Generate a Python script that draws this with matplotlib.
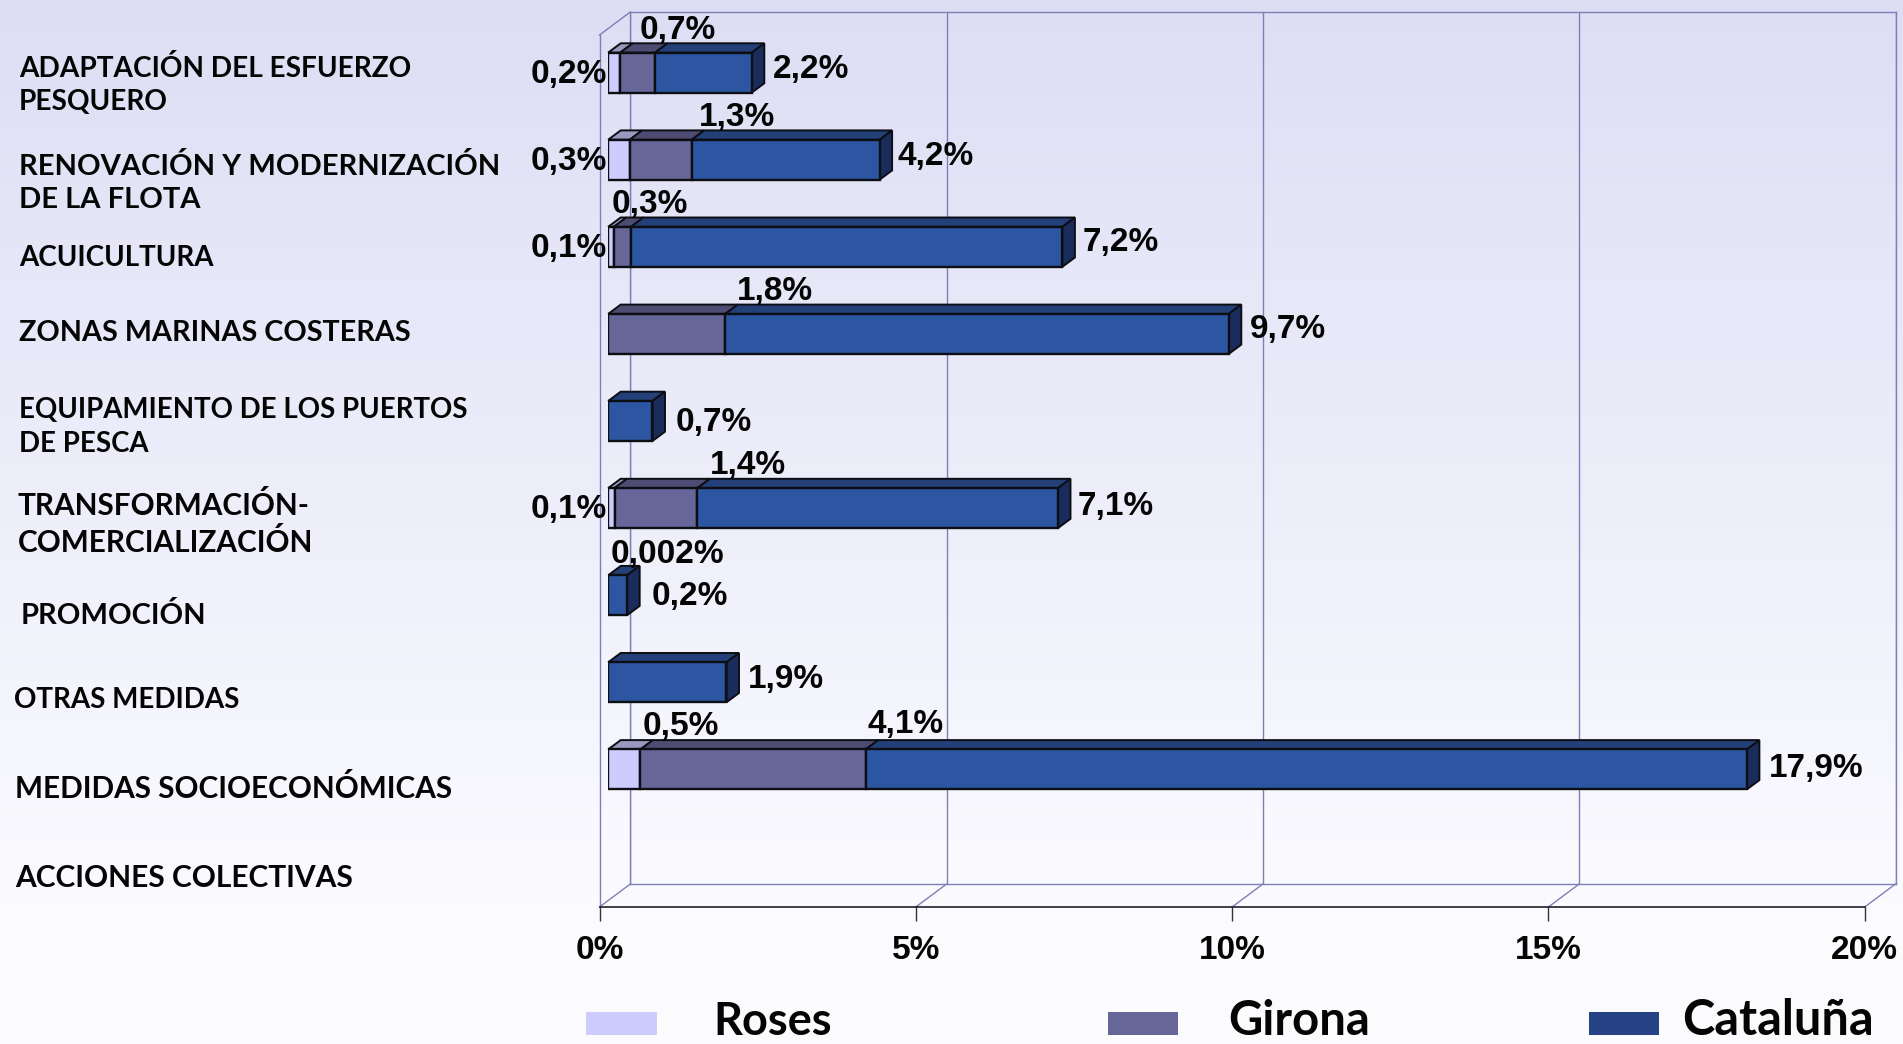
import numpy as np
import matplotlib
matplotlib.use("Agg")
import matplotlib.pyplot as plt
from matplotlib.patches import Polygon, Rectangle

W, H = 1903, 1044

# ---- data (percent; each series is cumulative along the bar) ----
categories = ["ADAPTACIÓN DEL ESFUERZO\nPESQUERO", "RENOVACIÓN Y MODERNIZACIÓN\nDE LA FLOTA",
              "ACUICULTURA", "ZONAS MARINAS COSTERAS", "EQUIPAMIENTO DE LOS PUERTOS\nDE PESCA",
              "TRANSFORMACIÓN-\nCOMERCIALIZACIÓN", "PROMOCIÓN", "OTRAS MEDIDAS",
              "MEDIDAS SOCIOECONÓMICAS", "ACCIONES COLECTIVAS"]
roses = [0.19, 0.34, 0.09, 0, 0, 0.1, 0, 0, 0.51, 0]
girona = [0.74, 1.32, 0.36, 1.85, 0, 1.41, 0.002, 0, 4.07, 0]
cataluna = [2.27, 4.29, 7.18, 9.81, 0.70, 7.11, 0.30, 1.87, 18.0, 0]
roses_labels = ["0,2%", "0,3%", "0,1%", "", "", "0,1%", "", "", "0,5%", ""]
girona_labels = ["0,7%", "1,3%", "0,3%", "1,8%", "", "1,4%", "0,002%", "", "4,1%", ""]
cataluna_labels = ["2,2%", "4,2%", "7,2%", "9,7%", "0,7%", "7,1%", "0,2%", "1,9%", "17,9%", ""]
xticks = [0, 5, 10, 15, 20]
xticklabels = ["0%", "5%", "10%", "15%", "20%"]
series_names = ["Roses", "Girona", "Cataluña"]

# ---- styles and layout ----
face = ["#CCCCFF", "#666699", "#2C55A2"]
top_face = ["#9999BF", "#4E4C72", "#234079"]
side_face = "#1A2C5C"
legend_face = ["#CCCCFF", "#666699", "#254384"]
wall = "#7F7FB8"
edge = "#0D0D14"
CAT_FONT = "Lato"
NUM_FONT = "Liberation Sans"

cat_left = [19, 19, 19, 19, 19, 18, 21, 14.5, 15, 15]
cat_y = [85, 183, 258, 333, 427, 524, 616, 699.5, 789, 878]
cat_size = [20.2, 21, 20, 20.7, 19.9, 21.4, 21, 20, 21.4, 21.5]
girona_dx = [23, 45, 19, 50, 0, 51, 59, 0, 0, 0]
girona_dy = [-42, -42, -42.5, -42, 0, -43, -41, 0, -45, 0]
total_dx = [21, 18, 20, 21, 23, 20, 24, 21, 22, 0]
total_dy = [3, 3, 4, 4, -2, 2, -1, 3, 1, 0]
legend_size = [32.5, 34, 35]

fig = plt.figure(figsize=(W / 100, H / 100), dpi=100)


def axes_px(x0, x1, y_top, y_bottom):
    return fig.add_axes([x0 / W, 1 - y_bottom / H, (x1 - x0) / W, (y_bottom - y_top) / H])


def fig_px(x, y):
    return x / W, 1 - y / H


# background gradient
bg = axes_px(0, W, 0, H)
stops_y = np.array([0, 900, 1044]) / 1044
col = np.array([[221, 222, 244], [251, 251, 255], [252, 252, 254]]) / 255
yy = np.linspace(0, 1, 522)
grad = np.stack([np.interp(yy, stops_y, col[:, c]) for c in range(3)], axis=1)[:, None, :]
bg.imshow(grad, aspect="auto", extent=(0, 1, 0, 1))
bg.axis("off")

# back wall
back = axes_px(630.3, 1895.7, 12, 884)
back.set_facecolor("none")
back.set_xlim(0, 20)
back.set_ylim(0, 1)
back.set_xticks(xticks)
back.tick_params(length=0, labelbottom=False, labelleft=False)
back.set_yticks([])
back.grid(axis="x", color=wall, lw=1.0)
for s in back.spines.values():
    s.set_color(wall)
    s.set_linewidth(1.0)

# front plane: value axis and left wall
front = axes_px(599.5, 1864.7, 35, 907)
front.set_facecolor("none")
front.set_xlim(0, 20)
front.set_ylim(0, 1)
front.set_yticks([])
front.set_xticks(xticks)
front.set_xticklabels(xticklabels, fontfamily=NUM_FONT, fontweight="bold", fontsize=24, color="#050505")
front.tick_params(axis="x", length=10, width=1.0, color="#333340", pad=10)
for n in ("top", "right"):
    front.spines[n].set_visible(False)
front.spines["left"].set_color(wall)
front.spines["left"].set_linewidth(1.0)
front.spines["bottom"].set_color(edge)
front.spines["bottom"].set_linewidth(1.1)
sx = 1265.2 / 20
depth_x, depth_y = 30.8 / sx, 23 / 872
for t in xticks:
    front.plot([t, t + depth_x], [0, depth_y], color=wall, lw=1.0, clip_on=False)
front.plot([0, depth_x], [1, 1 + depth_y], color=wall, lw=1.0, clip_on=False)

# bar plane
ax = axes_px(608.2, 1873.4, 35, 907)
ax.set_facecolor("none")
ax.set_xlim(0, 20)
pitch = 87.1
ax.set_ylim((907 - 72.6) / pitch, (35 - 72.6) / pitch)
ax.axis("off")
bar_h = 40 / pitch
dx, dy = 12.5 / sx, 9.3 / pitch

y = np.arange(len(categories))
r, g, c = np.array(roses), np.array(girona), np.array(cataluna)
starts = [np.zeros_like(r), r, np.maximum(g, r)]
ends = [r, np.maximum(g, r), c]
for k in range(3):
    w = ends[k] - starts[k]
    m = w > 0.01
    ax.barh(y[m], w[m], left=starts[k][m], height=bar_h, color=face[k],
            edgecolor=edge, linewidth=1.7, zorder=3)
    for yi, s, e in zip(y[m], starts[k][m], ends[k][m]):
        t = yi - bar_h / 2
        ax.add_patch(Polygon([(s, t), (e, t), (e + dx, t - dy), (s + dx, t - dy)], closed=True,
                             facecolor=top_face[k], edgecolor=edge, linewidth=1.4, zorder=2,
                             clip_on=False))
for yi, e in zip(y, c):
    if e > 0:
        t, b = yi - bar_h / 2, yi + bar_h / 2
        ax.add_patch(Polygon([(e, t), (e + dx, t - dy), (e + dx, b - dy), (e, b)], closed=True,
                             facecolor=side_face, edgecolor=edge, linewidth=1.4, zorder=2,
                             clip_on=False))

# data labels
lab = dict(fontfamily=NUM_FONT, fontweight="bold", fontsize=24, color="#050505",
           textcoords="offset pixels", annotation_clip=False, zorder=6)
for i in range(len(categories)):
    if cataluna_labels[i]:
        ax.annotate(cataluna_labels[i], (c[i], y[i]), xytext=(total_dx[i], total_dy[i]),
                    ha="left", va="center", **lab)
    if roses_labels[i] and i != 8:
        ax.annotate(roses_labels[i], (0, y[i]), xytext=(-1, -1.5), ha="right", va="center", **lab)
    if girona_labels[i] and i != 8:
        ax.annotate(girona_labels[i], (g[i], y[i]), xytext=(girona_dx[i], -girona_dy[i]),
                    ha="center", va="center", **lab)
ax.annotate(roses_labels[8], (r[8], y[8]), xytext=(40, 43), ha="center", va="center", **lab)
ax.annotate(girona_labels[8], (g[8], y[8]), xytext=(40, 45), ha="center", va="center", **lab)

# category labels
for name, x0, yc, fs in zip(categories, cat_left, cat_y, cat_size):
    fx, fy = fig_px(x0, yc)
    fig.text(fx, fy, name, ha="left", va="center", fontfamily=CAT_FONT, fontweight="bold",
             fontsize=fs, color="#050505", linespacing=1.34, zorder=6)

# legend
sw_left = [586, 1108, 1589]
sw_right = [657, 1178, 1659]
txt_left = [713, 1228, 1682]
for name, a, b, tx, col_k, fs in zip(series_names, sw_left, sw_right, txt_left, legend_face, legend_size):
    fx, fy = fig_px(a, 1035)
    fig.patches.append(Rectangle((fx, fy), (b - a) / W, 23 / H, transform=fig.transFigure,
                                 facecolor=col_k, edgecolor="none", figure=fig))
    fx, fy = fig_px(tx, 1035)
    fig.text(fx, fy, name, ha="left", va="baseline", fontfamily=CAT_FONT, fontweight="bold",
             fontsize=fs, color="#050505")

fig.savefig("out.png", dpi=100)
